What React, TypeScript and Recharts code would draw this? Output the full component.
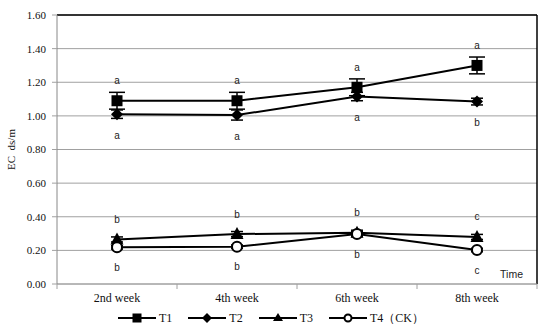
import React from 'react';
import {
  LineChart,
  Line,
  XAxis,
  YAxis,
  CartesianGrid,
  ErrorBar,
  LabelList,
  Legend,
  ReferenceLine,
} from 'recharts';

// EC (ds/m) over time for four treatments, with significance letters.

const categories = ['2nd week', '4th week', '6th week', '8th week'];
const yTicks = [0, 0.2, 0.4, 0.6, 0.8, 1.0, 1.2, 1.4, 1.6];

const t1 = [1.09, 1.09, 1.17, 1.3];
const t1Err = [0.05, 0.05, 0.05, 0.05];
const t1Letters = ['a', 'a', 'a', 'a'];

const t2 = [1.01, 1.005, 1.115, 1.085];
const t2Err = [0.025, 0.03, 0.025, 0.02];
const t2Letters = ['a', 'a', 'a', 'b'];

const t3 = [0.265, 0.297, 0.305, 0.28];
const t3Err = [0.015, 0.015, 0.015, 0.015];
const t3Letters = ['b', 'b', 'b', 'c'];

const t4 = [0.218, 0.222, 0.297, 0.202];
const t4Err = [0.01, 0.01, 0.015, 0.01];
const t4Letters = ['b', 'b', 'b', 'c'];

const data = categories.map((name, i) => ({
  x: i + 0.5,
  name,
  t1: t1[i], t1Err: t1Err[i], t1L: t1Letters[i],
  t2: t2[i], t2Err: t2Err[i], t2L: t2Letters[i],
  t3: t3[i], t3Err: t3Err[i], t3L: t3Letters[i],
  t4: t4[i], t4Err: t4Err[i], t4L: t4Letters[i],
}));

const SERIF = '"Liberation Serif", "Times New Roman", serif';
const SANS = '"Liberation Sans", Arial, sans-serif';
const GRID = '#a0a0a0';

// marker shapes
function Square({ cx, cy, size = 11 }: any) {
  const h = size / 2;
  return <rect x={cx - h} y={cy - h} width={size} height={size} fill="#000" />;
}
function Diamond({ cx, cy, size = 6 }: any) {
  return (
    <polygon
      points={`${cx},${cy - size} ${cx + size},${cy} ${cx},${cy + size} ${cx - size},${cy}`}
      fill="#000"
    />
  );
}
function Triangle({ cx, cy }: any) {
  return (
    <polygon points={`${cx},${cy - 7} ${cx + 6.5},${cy + 5} ${cx - 6.5},${cy + 5}`} fill="#000" />
  );
}
function Circle({ cx, cy, r = 5 }: any) {
  return <circle cx={cx} cy={cy} r={r} fill="#fff" stroke="#000" strokeWidth={2} />;
}

const dotT1 = (p: any) => <Square key={p.index} cx={p.cx} cy={p.cy} />;
const dotT2 = (p: any) => <Diamond key={p.index} cx={p.cx} cy={p.cy} />;
const dotT3 = (p: any) => <Triangle key={p.index} cx={p.cx} cy={p.cy} />;
const dotT4 = (p: any) => <Circle key={p.index} cx={p.cx} cy={p.cy} />;

// significance letter, shifted above (negative) or below (positive) the point
const letter = (dy: number) => (p: any) => (
  <text
    x={p.x}
    y={p.y + dy}
    textAnchor="middle"
    dominantBaseline="central"
    fontFamily={SANS}
    fontSize={10}
    fill="#222"
  >
    {p.value}
  </text>
);

// x axis: tick marks on band edges, labels in band centres
function XTick({ x, y, payload }: any) {
  const v = payload.value as number;
  if (Number.isInteger(v)) {
    return <line x1={x} y1={y - 5} x2={x} y2={y} stroke={GRID} strokeWidth={1} />;
  }
  return (
    <text x={x} y={y + 13} textAnchor="middle" fontFamily={SERIF} fontSize={12} fill="#111">
      {categories[Math.floor(v)]}
    </text>
  );
}

const legendItems = [
  { name: 'T1', Marker: Square, size: 9 },
  { name: 'T2', Marker: Diamond, size: 5 },
  { name: 'T3', Marker: Triangle },
  { name: 'T4（CK）', Marker: Circle, r: 3.5 },
];

function ChartLegend() {
  return (
    <div style={{ height: 24, display: 'flex', paddingLeft: 118, paddingTop: 3, boxSizing: 'border-box' }}>
      {legendItems.map(({ name, Marker, ...rest }) => (
        <div key={name} style={{ display: 'flex', alignItems: 'center', height: 12, marginRight: 16 }}>
          <svg width={38} height={14} style={{ display: 'block' }}>
            <line x1={0} y1={7} x2={38} y2={7} stroke="#000" strokeWidth={2} />
            {name === 'T3' ? (
              <polygon points="19,2 24,10 14,10" fill="#000" />
            ) : (
              <Marker cx={19} cy={7} {...rest} />
            )}
          </svg>
          <span style={{ fontFamily: SERIF, fontSize: 12, marginLeft: 3, color: '#111', lineHeight: '12px' }}>
            {name}
          </span>
        </div>
      ))}
    </div>
  );
}

export default function App() {
  return (
    <div style={{ position: 'absolute', left: 0, top: 0, background: '#fff' }}>
      <LineChart
        width={550}
        height={333}
        data={data}
        margin={{ top: 15, right: 13, left: 0, bottom: 0 }}
      >
        <CartesianGrid vertical={false} stroke={GRID} />
        <XAxis
          dataKey="x"
          type="number"
          domain={[0, 4]}
          ticks={[0, 0.5, 1, 1.5, 2, 2.5, 3, 3.5, 4]}
          interval={0}
          tick={<XTick />}
          tickLine={false}
          tickSize={5}
          tickMargin={0}
          height={25}
          axisLine={{ stroke: GRID }}
          label={({ viewBox }: any) => (
            <text
              x={viewBox.x + viewBox.width - 14}
              y={viewBox.y - 6}
              textAnchor="end"
              fontFamily={SANS}
              fontSize={10.5}
              fill="#222"
            >
              Time
            </text>
          )}
        />
        <YAxis
          domain={[0, 1.6]}
          ticks={yTicks}
          interval={0}
          width={57}
          tickSize={5}
          tickMargin={6}
          tickFormatter={(v) => v.toFixed(2)}
          tick={{ fontFamily: SERIF, fontSize: 11, fill: '#111' }}
          tickLine={{ stroke: GRID }}
          axisLine={{ stroke: '#888' }}
          label={({ viewBox }: any) => {
            const x = viewBox.x + 11;
            const y = viewBox.y + viewBox.height / 2;
            return (
              <text
                x={x}
                y={y}
                transform={`rotate(-90, ${x}, ${y})`}
                textAnchor="middle"
                dominantBaseline="central"
                fontFamily={SERIF}
                fontSize={11}
                fill="#111"
              >
                {'EC\u00a0\u00a0ds/m'}
              </text>
            );
          }}
        />
        {/* plot frame: black top and right edges */}
        <ReferenceLine y={1.6} stroke="#000" strokeWidth={1.5} />
        <ReferenceLine x={4} stroke="#000" strokeWidth={1.5} />
        <Legend verticalAlign="bottom" content={<ChartLegend />} />

        <Line dataKey="t1" stroke="#000" strokeWidth={2} dot={dotT1} isAnimationActive={false}>
          <ErrorBar dataKey="t1Err" direction="y" width={8} stroke="#000" strokeWidth={1.5} />
          <LabelList dataKey="t1L" content={letter(-20)} />
        </Line>
        <Line dataKey="t2" stroke="#000" strokeWidth={2} dot={dotT2} isAnimationActive={false}>
          <ErrorBar dataKey="t2Err" direction="y" width={6} stroke="#000" strokeWidth={1.5} />
          <LabelList dataKey="t2L" content={letter(21)} />
        </Line>
        <Line dataKey="t3" stroke="#000" strokeWidth={2} dot={dotT3} isAnimationActive={false}>
          <ErrorBar dataKey="t3Err" direction="y" width={6} stroke="#000" strokeWidth={1.5} />
          <LabelList dataKey="t3L" content={letter(-20)} />
        </Line>
        <Line dataKey="t4" stroke="#000" strokeWidth={2} dot={dotT4} isAnimationActive={false}>
          <ErrorBar dataKey="t4Err" direction="y" width={6} stroke="#000" strokeWidth={1.5} />
          <LabelList dataKey="t4L" content={letter(20)} />
        </Line>
      </LineChart>
    </div>
  );
}
